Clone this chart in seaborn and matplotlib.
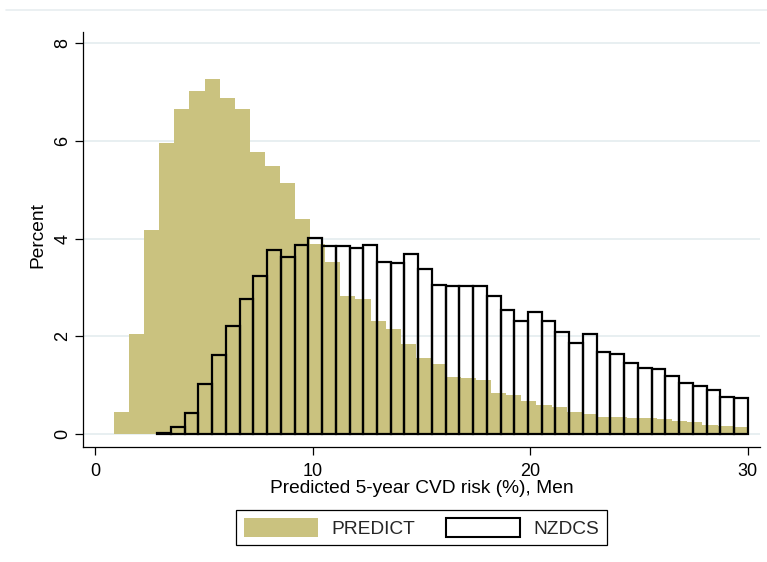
import numpy as np
import pandas as pd
import matplotlib
matplotlib.use("Agg")
import matplotlib.pyplot as plt
from matplotlib.patches import Patch
from matplotlib.lines import Line2D
import seaborn as sns

# ---- data (percent per bin) ----
predict_pct = [0.45, 2.06, 4.18, 5.95, 6.65, 7.01, 7.27, 6.87, 6.65, 5.77,
               5.48, 5.13, 4.41, 3.90, 3.52, 2.82, 2.77, 2.32, 2.16, 1.84,
               1.56, 1.44, 1.18, 1.15, 1.10, 0.84, 0.80, 0.69, 0.59, 0.56,
               0.46, 0.42, 0.35, 0.36, 0.33, 0.33, 0.31, 0.27, 0.25, 0.20,
               0.17, 0.14]
predict_range = (0.86, 30.0)

nzdcs_pct = [0.03, 0.15, 0.44, 1.02, 1.62, 2.22, 2.77, 3.24, 3.76, 3.63,
             3.86, 4.01, 3.84, 3.84, 3.81, 3.86, 3.52, 3.50, 3.68, 3.37,
             3.06, 3.04, 3.04, 3.03, 2.82, 2.54, 2.31, 2.51, 2.32, 2.10,
             1.86, 2.06, 1.69, 1.65, 1.45, 1.36, 1.33, 1.20, 1.04, 0.99,
             0.90, 0.77, 0.74]
nzdcs_range = (2.85, 30.0)

series_labels = ["PREDICT", "NZDCS"]
x_ticks = [0, 10, 20, 30]
y_ticks = [0, 2, 4, 6, 8]
x_label = "Predicted 5-year CVD risk (%), Men"
y_label = "Percent"

KHAKI = "#CAC27F"
GRID = "#E6EEF0"

sns.set_theme(style="white")
plt.rcParams["font.family"] = ["Liberation Sans", "DejaVu Sans"]

W, H = 767, 562
fig = plt.figure(figsize=(W / 100, H / 100), dpi=100)
fig.patch.set_facecolor("white")
ax = fig.add_axes([83 / W, (H - 447) / H, (760 - 83) / W, (447 - 32) / H])
ax.set_facecolor("white")

def bin_frame(vals, rng):
    edges = np.linspace(rng[0], rng[1], len(vals) + 1)
    centers = (edges[:-1] + edges[1:]) / 2
    return pd.DataFrame({"x": centers, "w": vals})

df_p = bin_frame(predict_pct, predict_range)
df_n = bin_frame(nzdcs_pct, nzdcs_range)

# gridlines
for yv in y_ticks:
    ax.axhline(yv, color=GRID, lw=1.3, zorder=0)

sns.histplot(data=df_p, x="x", weights="w", bins=len(predict_pct),
             binrange=predict_range, ax=ax,
             color=KHAKI, alpha=1, linewidth=0, zorder=2)
sns.histplot(data=df_n, x="x", weights="w", bins=len(nzdcs_pct),
             binrange=nzdcs_range, ax=ax,
             fill=False, color="black", linewidth=1.6, zorder=3)

ax.set_xlim(-0.566, 30.566)
ax.set_ylim(-0.26, 8.225)
ax.set_xticks(x_ticks)
ax.set_yticks(y_ticks)
ax.set_xticklabels([str(v) for v in x_ticks])
ax.set_yticklabels([str(v) for v in y_ticks], rotation=90, va="center")

for s in ["top", "right"]:
    ax.spines[s].set_visible(False)
for s in ["left", "bottom"]:
    ax.spines[s].set_color("black")
    ax.spines[s].set_linewidth(0.9)

ax.tick_params(axis="both", which="major", direction="out", length=5.5,
               width=0.9, color="black", labelsize=13, labelcolor="black",
               left=True, bottom=True)
ax.tick_params(axis="y", pad=3)
ax.tick_params(axis="x", pad=6)

ax.set_xlabel(x_label, fontsize=13.8, color="black", labelpad=0)
ax.set_ylabel(y_label, fontsize=13.8, color="black")
ax.yaxis.set_label_coords(-0.054, 0.51)

handles = [Patch(facecolor=KHAKI, edgecolor=KHAKI, linewidth=0),
           Patch(facecolor="white", edgecolor="black", linewidth=1.5)]
leg = fig.legend(handles, series_labels, loc="upper center",
                 bbox_to_anchor=(421.5 / W, 1 - 510 / H), ncol=2,
                 fontsize=13.8, frameon=True, fancybox=False, shadow=False,
                 framealpha=1, edgecolor="black", handlelength=3.85,
                 handleheight=1.15, handletextpad=0.7, columnspacing=1.6,
                 borderpad=0.4, borderaxespad=0)
leg.get_frame().set_linewidth(0.9)

# faint outer region line at top
fig.add_artist(Line2D([6 / W, 1.0], [1 - 10 / H, 1 - 10 / H],
                      color="#E8EEF0", lw=1.2, transform=fig.transFigure))

fig.savefig("out.png", dpi=100, facecolor="white")
